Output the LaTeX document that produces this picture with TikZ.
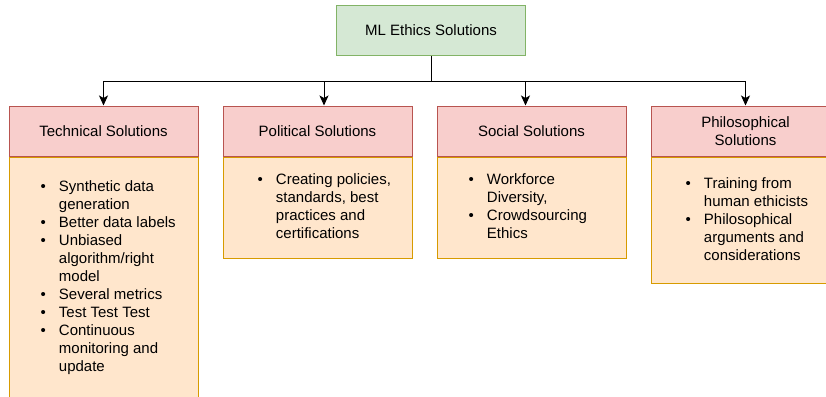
\documentclass[tikz,border=0pt]{standalone}
\usepackage{fontspec}
\setmainfont{Liberation Sans}
\usetikzlibrary{positioning,arrows.meta}
\definecolor{rootfill}{HTML}{D5E8D4}
\definecolor{rootline}{HTML}{82B366}
\definecolor{headfill}{HTML}{F8CECC}
\definecolor{headline}{HTML}{B85450}
\definecolor{bodyfill}{HTML}{FFE6CC}
\definecolor{bodyline}{HTML}{D79B00}

\begin{document}
\begin{tikzpicture}[
  x=1pt,y=-1pt,
  every node/.style={font=\fontsize{15}{18}\selectfont},
  top/.style={draw=rootline,fill=rootfill,line width=1pt,minimum width=189pt,minimum height=50pt,align=center},
  head/.style={draw=headline,fill=headfill,line width=1pt,minimum width=189pt,minimum height=50pt,align=center,inner sep=0pt},
  body/.style={draw=bodyline,fill=bodyfill,line width=1pt,minimum width=189pt,below=0pt of #1,inner sep=0pt},
  items/.style={anchor=west,inner sep=0pt,yshift=-0.5pt},
  conn/.style={-{Stealth[length=10pt,width=9pt,inset=2.5pt]},line width=1pt}
]
\useasboundingbox (0,0) rectangle (826,396);

% top node and the row of headers
\node[top] (root) at (431,30.5) {ML Ethics Solutions};
\node[head] (tech) at (103.5,131) {Technical Solutions};
\node[head,right=24pt of tech] (pol) {Political Solutions};
\node[head,right=24pt of pol] (soc) {Social Solutions};
\node[head,right=24pt of soc] (phil) {Philosophical\\Solutions};

% bodies under the headers
\node[body=tech,minimum height=241pt] (techbody) {};
\node[body=pol,minimum height=101pt] (polbody) {};
\node[body=soc,minimum height=101pt] (socbody) {};
\node[body=phil,minimum height=126pt] (philbody) {};

\node[items] (techlist) at ([xshift=32pt]techbody.west) {%
  \begin{tabular}{@{}l@{\hspace{13pt}}l@{}}
  \textbullet & Synthetic data\\
   & generation\\
  \textbullet & Better data labels\\
  \textbullet & Unbiased\\
   & algorithm/right\\
   & model\\
  \textbullet & Several metrics\\
  \textbullet & Test Test Test\\
  \textbullet & Continuous\\
   & monitoring and\\
   & update
  \end{tabular}};
\node[items] (pollist) at ([xshift=35pt]polbody.west) {%
  \begin{tabular}{@{}l@{\hspace{13pt}}l@{}}
  \textbullet & Creating policies,\\
   & standards, best\\
   & practices and\\
   & certifications
  \end{tabular}};
\node[items] (soclist) at ([xshift=32pt]socbody.west) {%
  \begin{tabular}{@{}l@{\hspace{13pt}}l@{}}
  \textbullet & Workforce\\
   & Diversity,\\
  \textbullet & Crowdsourcing\\
   & Ethics
  \end{tabular}};
\node[items] (phillist) at ([xshift=35pt]philbody.west) {%
  \begin{tabular}{@{}l@{\hspace{13pt}}l@{}}
  \textbullet & Training from\\
   & human ethicists\\
  \textbullet & Philosophical\\
   & arguments and\\
   & considerations
  \end{tabular}};

% connectors (the two middle ones land a little off centre)
\coordinate (split) at ([yshift=-25pt]root.south);
\draw[line width=1pt] (root.south) -- (split);
\draw[conn] (split) -| (tech.north);
\draw[conn] (split) -| ([xshift=6.5pt]pol.north);
\draw[conn] (split) -| ([xshift=-6pt]soc.north);
\draw[conn] (split) -| (phil.north);
\end{tikzpicture}
\end{document}
